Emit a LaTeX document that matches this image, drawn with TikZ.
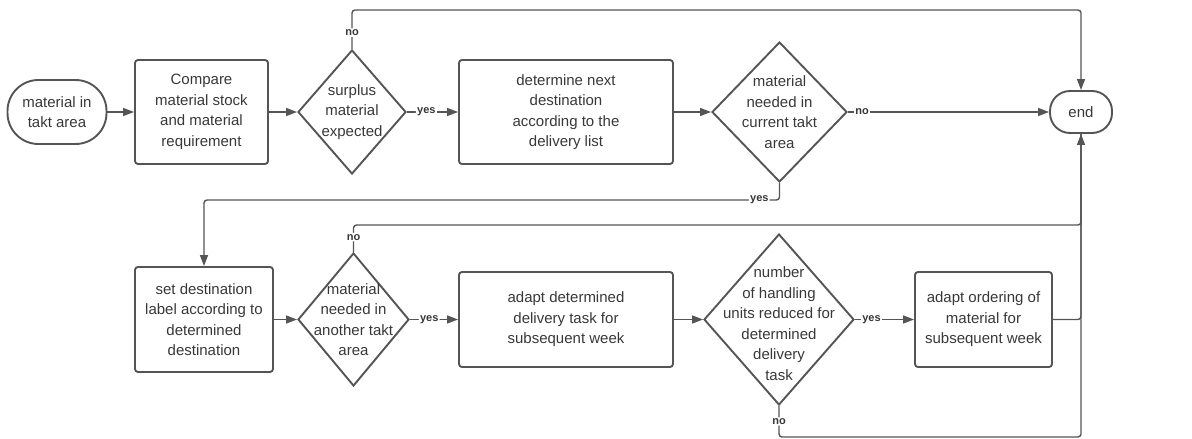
\documentclass[tikz,border=0pt]{standalone}
\usepackage{fontspec}
\setmainfont{Liberation Sans}
\usetikzlibrary{arrows.meta,shapes.geometric}
\definecolor{ln}{HTML}{555555}
\definecolor{tx}{HTML}{383838}
\begin{document}
\begin{tikzpicture}[x=1pt,y=-1pt,
  font=\fontsize{15}{20.5}\selectfont, text=tx,
  shapeline/.style={draw=ln, line width=1.9pt},
  box/.style={shapeline, rectangle, rounded corners=3pt, align=center, inner sep=0pt},
  term/.style={shapeline, rectangle, align=center, inner sep=0pt},
  dec/.style={shapeline, diamond, inner sep=0pt},
  dtxt/.style={align=center, inner sep=0pt, text=tx},
  conn/.style={draw=ln, line width=1.4pt, rounded corners=3pt},
  arr/.style={conn, -{Triangle[length=11pt,width=8pt]}},
  lbl/.style={font=\bfseries\fontsize{11}{12}\selectfont, fill=white, inner sep=1.2pt, text=tx}]
\useasboundingbox (0,0) rectangle (1192,439);

% top row
\node[term, rounded corners=31pt, minimum width=99pt, minimum height=64pt] (start) at (57,112) {material in\\takt area};
\node[box, minimum width=133pt, minimum height=104pt] (cmp) at (201.5,112) {Compare\\material stock\\and material\\requirement};
\node[dec, minimum width=108pt, minimum height=124pt,
  label={[dtxt, name=d1t]center:surplus\\material\\expected}] (d1) at (352,112) {};
\node[box, minimum width=214pt, minimum height=104pt] (det) at (566,112) {determine next\\destination\\according to the\\delivery list};
\node[dec, minimum width=135pt, minimum height=140pt,
  label={[dtxt, name=d2t]center:material\\needed in\\current takt\\area}] (d2) at (779.5,112) {};
\node[term, rounded corners=20pt, minimum width=62pt, minimum height=42pt] (end) at (1081,112) {end};

% bottom row
\node[box, minimum width=138pt, minimum height=105pt] (set) at (204,319.5) {set destination\\label according to\\determined\\destination};
\node[dec, minimum width=111pt, minimum height=133pt,
  label={[dtxt, name=d3t]center:material\\needed in\\another takt\\area}] (d3) at (353.5,319.5) {};
\node[box, minimum width=214pt, minimum height=95pt] (adp) at (566,319.5) {adapt determined\\delivery task for\\subsequent week};
\node[dec, minimum width=150pt, minimum height=171pt,
  label={[dtxt, name=d4t, yshift=-4pt]center:number\\of handling\\units reduced for\\determined\\delivery\\task}] (d4) at (779,319.5) {};
\node[box, minimum width=137pt, minimum height=95pt] (ord) at (983.5,319.5) {adapt ordering of\\material for\\subsequent week};

% routing levels
\coordinate (topr) at (0,10);
\coordinate (yesr) at (0,200);
\coordinate (midr) at (0,225);
\coordinate (botr) at (0,437);

% top row connectors
\draw[arr] (start) -- (cmp);
\draw[arr] (cmp) -- (d1);
\draw[arr] (d1) -- node[lbl, pos=0.38]{yes} (det);
\draw[arr] (det) -- (d2);
\draw[arr] (d2) -- node[lbl, pos=0.07]{no} (end);
\draw[arr] (d1.north) -- node[lbl, pos=0.42]{no} (d1.north |- topr) -| (end.north);
\draw[arr] (d2.south) -- (d2.south |- yesr) -- node[lbl, pos=0.035]{yes} (set.north |- yesr) -- (set.north);

% bottom row connectors
\draw[arr] (set) -- (d3);
\draw[arr] (d3) -- node[lbl, pos=0.4]{yes} (adp);
\draw[arr] (adp) -- (d4);
\draw[arr] (d4) -- node[lbl, pos=0.28]{yes} (ord);
\draw[conn] (d3.north) -- node[lbl, pos=0.55]{no} (d3.north |- midr) -| (end.south);
\draw[conn] (ord.east) -| (end.south);
\draw[arr] (d4.south) -- node[lbl, pos=0.5]{no} (d4.south |- botr) -| (end.south);
\end{tikzpicture}
\end{document}
